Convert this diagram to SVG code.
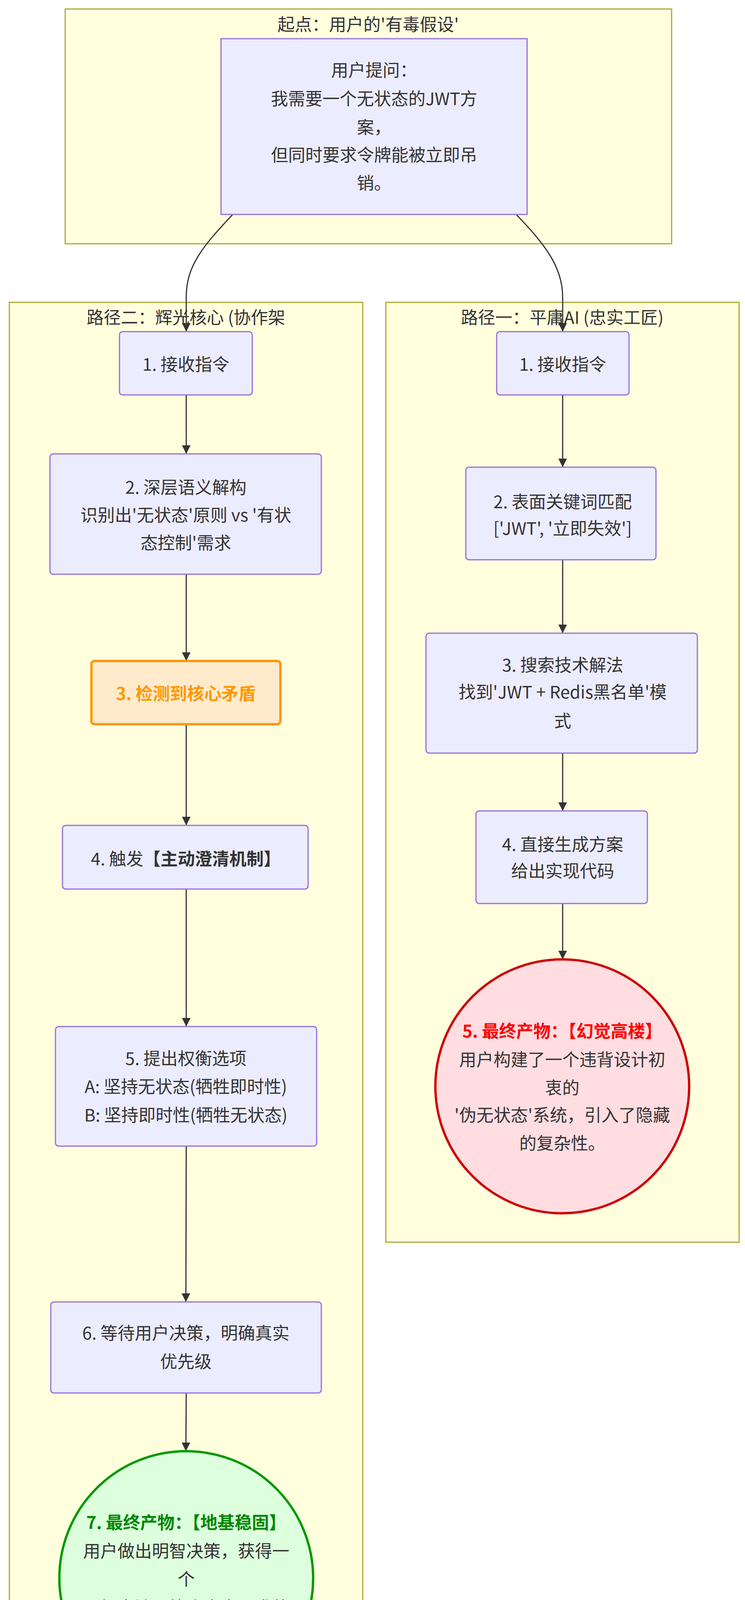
<svg xmlns="http://www.w3.org/2000/svg" width="1908" height="4455" viewBox="0 0 1908 4455">
<defs>
<marker id="ah" viewBox="0 0 10 10" refX="9" refY="5" markerWidth="6" markerHeight="6" markerUnits="userSpaceOnUse" orient="auto"><path d="M0,0 L10,5 L0,10 z" fill="#333"/></marker>
<marker id="a" viewBox="0 0 10 10" refX="10" refY="5" markerWidth="22" markerHeight="22" markerUnits="userSpaceOnUse" orient="auto"><path d="M0,0 L10,5 L0,10 z" fill="#333"/></marker>
<style>
text{font-family:"Noto Sans CJK SC","Noto Sans",sans-serif;font-size:44px;fill:#333;text-anchor:middle;dominant-baseline:central}
.cl{fill:#ffffde;stroke:#aaaa33;stroke-width:3}
.n{fill:#ececff;stroke:#9370db;stroke-width:3}
.e{fill:none;stroke:#333;stroke-width:3;marker-end:url(#a)}
.b{font-weight:bold}
</style>
</defs>
<g id="clusters">
<rect class="cl" x="167" y="23" width="1553" height="601"/>
<text x="943" y="60">起点：用户的'有毒假设'</text>
<rect class="cl" x="24" y="774" width="905" height="3668"/>
<text x="476" y="810">路径二：辉光核心 (协作架</text>
<rect class="cl" x="988" y="774" width="905" height="2406"/>
<text x="1440" y="810">路径一：平庸AI (忠实工匠)</text>
</g>
<g id="edges">
<path class="e" d="M596,549 C520,630 477,680 477,760 L477,849"/>
<path class="e" d="M1322,549 C1390,620 1441,680 1441,760 L1441,849"/>
<path class="e" d="M477,1011 L477,1162"/>
<path class="e" d="M477,1470 L477,1692"/>
<path class="e" d="M477,1854 L477,2113"/>
<path class="e" d="M477,2276 L477,2628"/>
<path class="e" d="M477,2934 L476,3333"/>
<path class="e" d="M477,3566 L476,3715"/>
<path class="e" d="M1441,1011 L1441,1196"/>
<path class="e" d="M1441,1433 L1441,1621"/>
<path class="e" d="M1441,1928 L1441,2076"/>
<path class="e" d="M1441,2313 L1441,2456"/>
</g>
<g id="start">
<rect class="n" x="566" y="99" width="784" height="450"/>
<text x="958" y="177">用户提问：</text>
<text x="958" y="250">我需要一个无状态的JWT方</text>
<text x="958" y="323">案，</text>
<text x="958" y="394">但同时要求令牌能被立即吊</text>
<text x="958" y="466">销。</text>
</g>
<g id="L1"><rect class="n" x="306" y="849" width="340" height="162" rx="8"/><text x="476" y="930">1. 接收指令</text></g>
<g id="L2"><rect class="n" x="128" y="1162" width="695" height="308" rx="8"/>
<text x="476" y="1245">2. 深层语义解构</text><text x="476" y="1316">识别出'无状态'原则 vs '有状</text><text x="476" y="1387">态控制'需求</text></g>
<g id="L3"><rect x="234" y="1692" width="484" height="162" rx="8" fill="#ffebcc" stroke="#ff9800" stroke-width="6"/>
<text x="476" y="1773" class="b" style="fill:#ff9800">3. 检测到核心矛盾</text></g>
<g id="L4"><rect class="n" x="160" y="2113" width="629" height="163" rx="8"/>
<text x="476" y="2196">4. 触发<tspan class="b">【主动澄清机制】</tspan></text></g>
<g id="L5"><rect class="n" x="142" y="2628" width="669" height="306" rx="8"/>
<text x="476" y="2707">5. 提出权衡选项</text><text x="476" y="2779">A: 坚持无状态(牺牲即时性)</text><text x="476" y="2852">B: 坚持即时性(牺牲无状态)</text></g>
<g id="L6"><rect class="n" x="130" y="3333" width="693" height="233" rx="8"/>
<text x="476" y="3410">6. 等待用户决策，明确真实</text><text x="476" y="3483">优先级</text></g>
<g id="L7"><circle cx="477" cy="4040" r="325" fill="#ddffdd" stroke="#009900" stroke-width="6"/>
<text x="477" y="3895" class="b" style="fill:#008800">7. 最终产物：【地基稳固】</text>
<text x="477" y="3968">用户做出明智决策，获得一</text><text x="477" y="4040">个</text>
<text x="477" y="4113">逻辑自洽、符合真实需求的</text><text x="477" y="4185">架构。</text></g>
<g id="R1"><rect class="n" x="1272" y="849" width="339" height="162" rx="8"/><text x="1441" y="930">1. 接收指令</text></g>
<g id="R2"><rect class="n" x="1193" y="1196" width="487" height="237" rx="8"/>
<text x="1441" y="1282">2. 表面关键词匹配</text><text x="1441" y="1350">['JWT', '立即失效']</text></g>
<g id="R3"><rect class="n" x="1091" y="1621" width="695" height="307" rx="8"/>
<text x="1441" y="1700">3. 搜索技术解法</text><text x="1441" y="1769">找到'JWT + Redis黑名单'模</text><text x="1441" y="1843">式</text></g>
<g id="R4"><rect class="n" x="1219" y="2076" width="439" height="237" rx="8"/>
<text x="1441" y="2159">4. 直接生成方案</text><text x="1441" y="2227">给出实现代码</text></g>
<g id="R5"><circle cx="1440" cy="2781" r="325" fill="#ffdde1" stroke="#cc0000" stroke-width="6"/>
<text x="1440" y="2637" class="b" style="fill:#ff0000">5. 最终产物：【幻觉高楼】</text>
<text x="1440" y="2710">用户构建了一个违背设计初</text><text x="1440" y="2782">衷的</text>
<text x="1440" y="2852">'伪无状态'系统，引入了隐藏</text><text x="1440" y="2924">的复杂性。</text></g>
</svg>
